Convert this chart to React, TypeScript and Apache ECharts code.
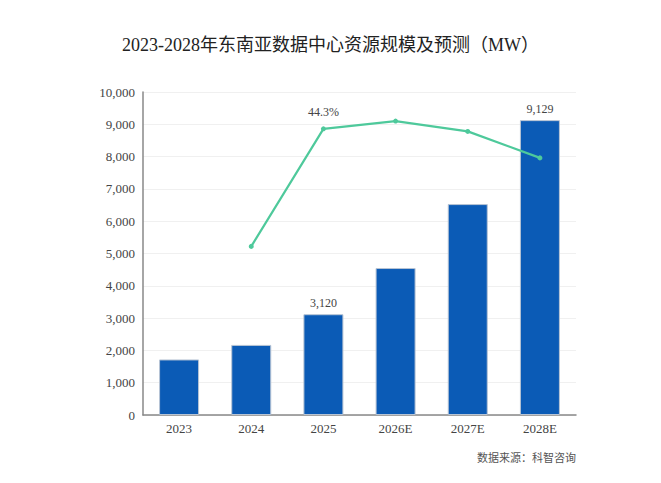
import React, { useEffect, useRef } from "react";
import * as echarts from "echarts";

const categories = ["2023", "2024", "2025", "2026E", "2027E", "2028E"];
const capacity = [1720, 2170, 3120, 4550, 6530, 9129];
const growth = [null, 26.1, 44.3, 45.5, 43.9, 39.8];
const barLabelIndex = [2, 5];
const lineLabelIndex = [2];

const FONT = "'Liberation Serif', 'Noto Sans CJK SC', serif";

export default function App() {
  const ref = useRef<HTMLDivElement>(null);
  useEffect(() => {
    const chart = echarts.init(ref.current!, null, { renderer: "svg" });
    chart.setOption({
      animation: false,
      backgroundColor: "#ffffff",
      textStyle: { fontFamily: FONT },
      title: {
        text: "2023-2028年东南亚数据中心资源规模及预测（MW）",
        left: "center",
        top: 23,
        textStyle: { fontFamily: FONT, fontSize: 18, fontWeight: "normal", color: "#222" },
      },
      graphic: [
        {
          type: "text",
          right: 77,
          top: 443,
          style: {
            text: "数据来源：科智咨询",
            font: "11px 'Noto Sans CJK SC', serif",
            fill: "#555",
          },
        },
      ],
      grid: { left: 135, right: 77, top: 84, bottom: 68 },
      xAxis: {
        type: "category",
        data: categories,
        axisLine: { lineStyle: { color: "#888", width: 1.5 } },
        axisTick: { show: false },
        axisLabel: { fontFamily: FONT, fontSize: 13, color: "#444", margin: 7 },
      },
      yAxis: [
        {
          type: "value",
          min: 0,
          max: 10000,
          interval: 1000,
          axisLine: { show: true, lineStyle: { color: "#888", width: 1.5 } },
          axisTick: { show: false },
          splitLine: { lineStyle: { color: "#f0f0f0" } },
          axisLabel: {
            fontFamily: FONT,
            fontSize: 13,
            color: "#444",
            margin: 8,
            formatter: (v: number) => v.toLocaleString("en-US"),
          },
        },
        {
          type: "value",
          min: 0,
          max: 50,
          show: false,
          splitLine: { show: false },
        },
      ],
      series: [
        {
          type: "bar",
          barWidth: 40,
          data: capacity.map((v, i) => ({
            value: v,
            label: {
              show: barLabelIndex.includes(i),
              position: "top",
              fontFamily: FONT,
              fontSize: 12,
              color: "#444",
              distance: 5,
              formatter: (p: any) => p.value.toLocaleString("en-US"),
            },
          })),
          itemStyle: { color: "#0b5bb6", borderColor: "#b8c4d4", borderWidth: 1 },
        },
        {
          type: "line",
          yAxisIndex: 1,
          data: growth.map((v, i) => ({
            value: v,
            label: {
              show: lineLabelIndex.includes(i),
              position: "top",
              fontFamily: FONT,
              fontSize: 12,
              color: "#444",
              distance: 8,
              formatter: (p: any) => p.value.toFixed(1) + "%",
            },
          })),
          symbol: "circle",
          symbolSize: 5,
          lineStyle: { color: "#4ec99b", width: 2.2 },
          itemStyle: { color: "#4ec99b" },
        },
      ],
    });
    return () => chart.dispose();
  }, []);
  return <div ref={ref} style={{ width: 645, height: 475 }} />;
}
